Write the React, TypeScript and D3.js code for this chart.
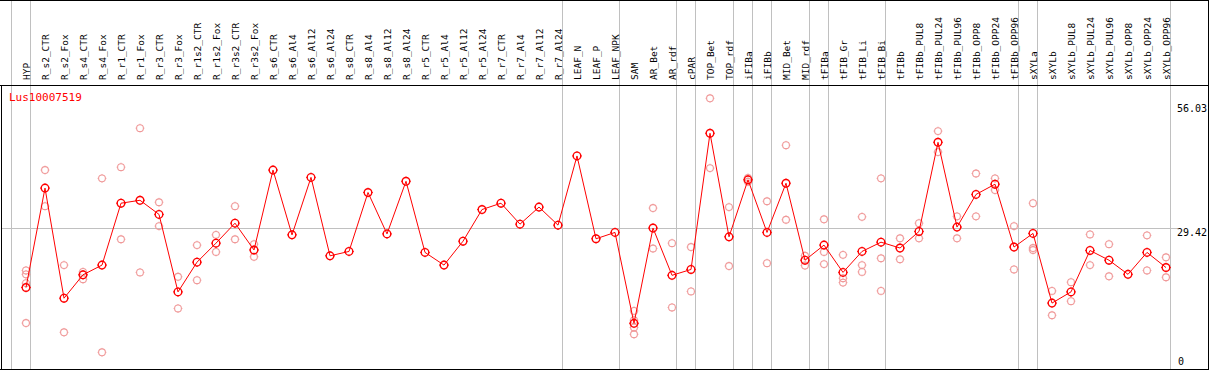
import React from "react";
import { scaleBand, scaleLinear, line } from "d3";

const categories = [
  "HYP", "R_s2_CTR", "R_s2_Fox", "R_s4_CTR", "R_s4_Fox", "R_r1_CTR", "R_r1_Fox",
  "R_r3_CTR", "R_r3_Fox", "R_r1s2_CTR", "R_r1s2_Fox", "R_r3s2_CTR", "R_r3s2_Fox",
  "R_s6_CTR", "R_s6_Al4", "R_s6_Al12", "R_s6_Al24", "R_s8_CTR", "R_s8_Al4",
  "R_s8_Al12", "R_s8_Al24", "R_r5_CTR", "R_r5_Al4", "R_r5_Al12", "R_r5_Al24",
  "R_r7_CTR", "R_r7_Al4", "R_r7_Al12", "R_r7_Al24", "LEAF_N", "LEAF_P", "LEAF_NPK",
  "SAM", "AR_Bet", "AR_rdf", "cPAR", "TOP_Bet", "TOP_rdf", "iFIBa", "iFIBb",
  "MID_Bet", "MID_rdf", "tFIBa", "tFIB_Gr", "tFIB_Li", "tFIB_Bi", "tFIBb",
  "tFIBb_PUL8", "tFIBb_PUL24", "tFIBb_PUL96", "tFIBb_OPP8", "tFIBb_OPP24", "tFIBb_OPP96",
  "sXYLa", "sXYLb", "sXYLb_PUL8", "sXYLb_PUL24", "sXYLb_PUL96", "sXYLb_OPP8",
  "sXYLb_OPP24", "sXYLb_OPP96",
];

// mean expression per sample
const means = [
  17.2, 37.6, 15.0, 19.8, 21.8, 34.5, 35.1, 32.2, 16.3, 22.4, 26.3, 30.4, 24.9,
  41.3, 28.0, 39.8, 23.7, 24.6, 36.7, 28.2, 39.0, 24.4, 21.8, 26.7, 33.2,
  34.5, 30.2, 33.7, 30.0, 44.2, 27.2, 28.5,
  9.85, 29.4, 19.7, 20.9, 48.85, 27.6, 39.3, 28.5, 38.6, 22.8, 25.9, 20.3, 24.6,
  26.5, 25.3, 28.7, 47.0, 29.6, 36.3, 38.4, 25.5, 28.3, 14.0, 16.3, 24.8, 22.8,
  19.9, 24.4, 21.3,
];

// individual replicates
const replicates: number[][] = [
  [20.7, 19.9, 18.1, 9.9], [41.3, 33.9], [21.8, 8.0], [20.4, 18.9], [39.6, 3.9],
  [41.9, 27.1], [49.9, 20.3], [34.7, 29.8], [19.4, 12.9], [25.9, 18.7],
  [28.0, 24.5], [33.9, 27.1], [26.1, 23.5],
  [], [], [], [], [], [], [], [], [], [], [], [], [], [], [], [], [], [], [],
  [12.4, 10.5, 9.0, 7.6], [33.5, 25.2], [26.3, 13.1], [25.5, 16.4], [56.03, 41.7],
  [33.7, 21.6], [39.7, 38.9], [34.9, 22.2], [46.4, 31.1], [23.7, 21.7],
  [31.2, 24.5, 22.0], [23.9, 19.1, 18.2], [31.7, 21.8, 20.4], [39.6, 23.2, 16.5],
  [27.3, 23.0], [30.4, 27.3], [49.3, 45.0], [31.8, 27.3], [40.6, 31.8],
  [39.6, 37.2], [29.8, 20.9], [34.5, 25.3, 24.9], [16.5, 11.5], [18.3, 14.4],
  [28.1, 21.8], [26.1, 19.5], [], [27.9, 20.7], [23.4, 19.3],
];

// group boundaries (index of the first column after each separator)
const groupBreaks = [0, 1, 29, 32, 35, 36, 38, 39, 40, 42, 43, 46, 53, 54, 61];

const yMax = 56.03;
const yMid = 29.42;
const geneName = "Lus10007519";

const font = "'DejaVu Sans Mono', monospace";

function Marker({ cx, cy, r, color, sw }: { cx: number; cy: number; r: number; color: string; sw: number }) {
  const t = r + 1;
  return (
    <g stroke={color} strokeWidth={sw} fill="none">
      <circle cx={cx} cy={cy} r={r} />
      <line x1={cx} y1={cy - r} x2={cx} y2={cy - t} strokeWidth={1} />
      <line x1={cx} y1={cy + r} x2={cx} y2={cy + t} strokeWidth={1} />
      <line x1={cx - r} y1={cy} x2={cx - t} y2={cy} strokeWidth={1} />
      <line x1={cx + r} y1={cy} x2={cx + t} y2={cy} strokeWidth={1} />
    </g>
  );
}

export default function App() {
  const width = 1209;
  const height = 370;
  const headerY = 85;
  const plotBottom = 369;

  const x = scaleBand<string>().domain(categories).range([11, 1170]);
  const px = (i: number) => (x(categories[i]) ?? 0) + 15;
  const y = scaleLinear().domain([0, yMax]).range([371.3, 98.3]);

  const path = line<number>()
    .x((_, i) => px(i))
    .y((d) => y(d))(means);

  const sepX = (k: number) => (k < categories.length ? x(categories[k]) ?? 0 : 1170);

  return (
    <svg
      width={width}
      height={height}
      style={{ position: "absolute", left: 0, top: 0, display: "block", background: "#fff" }}
    >
      {groupBreaks.map((k) => (
        <line key={`sep${k}`} x1={sepX(k) + 0.5} x2={sepX(k) + 0.5} y1={0} y2={plotBottom} stroke="#c0c0c0" strokeWidth={1} />
      ))}
      <line x1={1} x2={1178} y1={Math.round(y(yMid)) + 0.5} y2={Math.round(y(yMid)) + 0.5} stroke="#c0c0c0" strokeWidth={1} />

      {categories.map((c, i) => (
        <text
          key={c}
          transform={`translate(${px(i) + 3.5},80) rotate(-90)`}
          fontFamily={font}
          fontSize="9.5px"
          fill="#000"
        >
          {c}
        </text>
      ))}

      {replicates.map((reps, i) =>
        reps.map((v, j) => (
          <Marker key={`r${i}_${j}`} cx={px(i)} cy={y(v)} r={3.4} color="#f09a9a" sw={1.1} />
        ))
      )}

      <path d={path ?? ""} fill="none" stroke="#ff0000" strokeWidth={1} />
      {means.map((v, i) => (
        <Marker key={`m${i}`} cx={px(i)} cy={y(v)} r={3.8} color="#ff0000" sw={1.4} />
      ))}

      <text x={9} y={101} fontFamily={font} fontSize="11px" fill="#ff0000">{geneName}</text>
      <text x={1177} y={111.5} fontFamily={font} fontSize="10px" fill="#000">{yMax.toFixed(2)}</text>
      <text x={1177} y={236} fontFamily={font} fontSize="10px" fill="#000">{yMid.toFixed(2)}</text>
      <text x={1178} y={365} fontFamily={font} fontSize="10px" fill="#000">0</text>

      <line x1={0} x2={width} y1={0.5} y2={0.5} stroke="#000" />
      <line x1={0} x2={width} y1={headerY + 0.5} y2={headerY + 0.5} stroke="#000" />
      <line x1={0} x2={width} y1={plotBottom + 0.5} y2={plotBottom + 0.5} stroke="#000" />
      <line x1={1.5} x2={1.5} y1={headerY} y2={plotBottom} stroke="#000" />
      <line x1={width - 0.5} x2={width - 0.5} y1={0} y2={plotBottom} stroke="#000" />
    </svg>
  );
}
